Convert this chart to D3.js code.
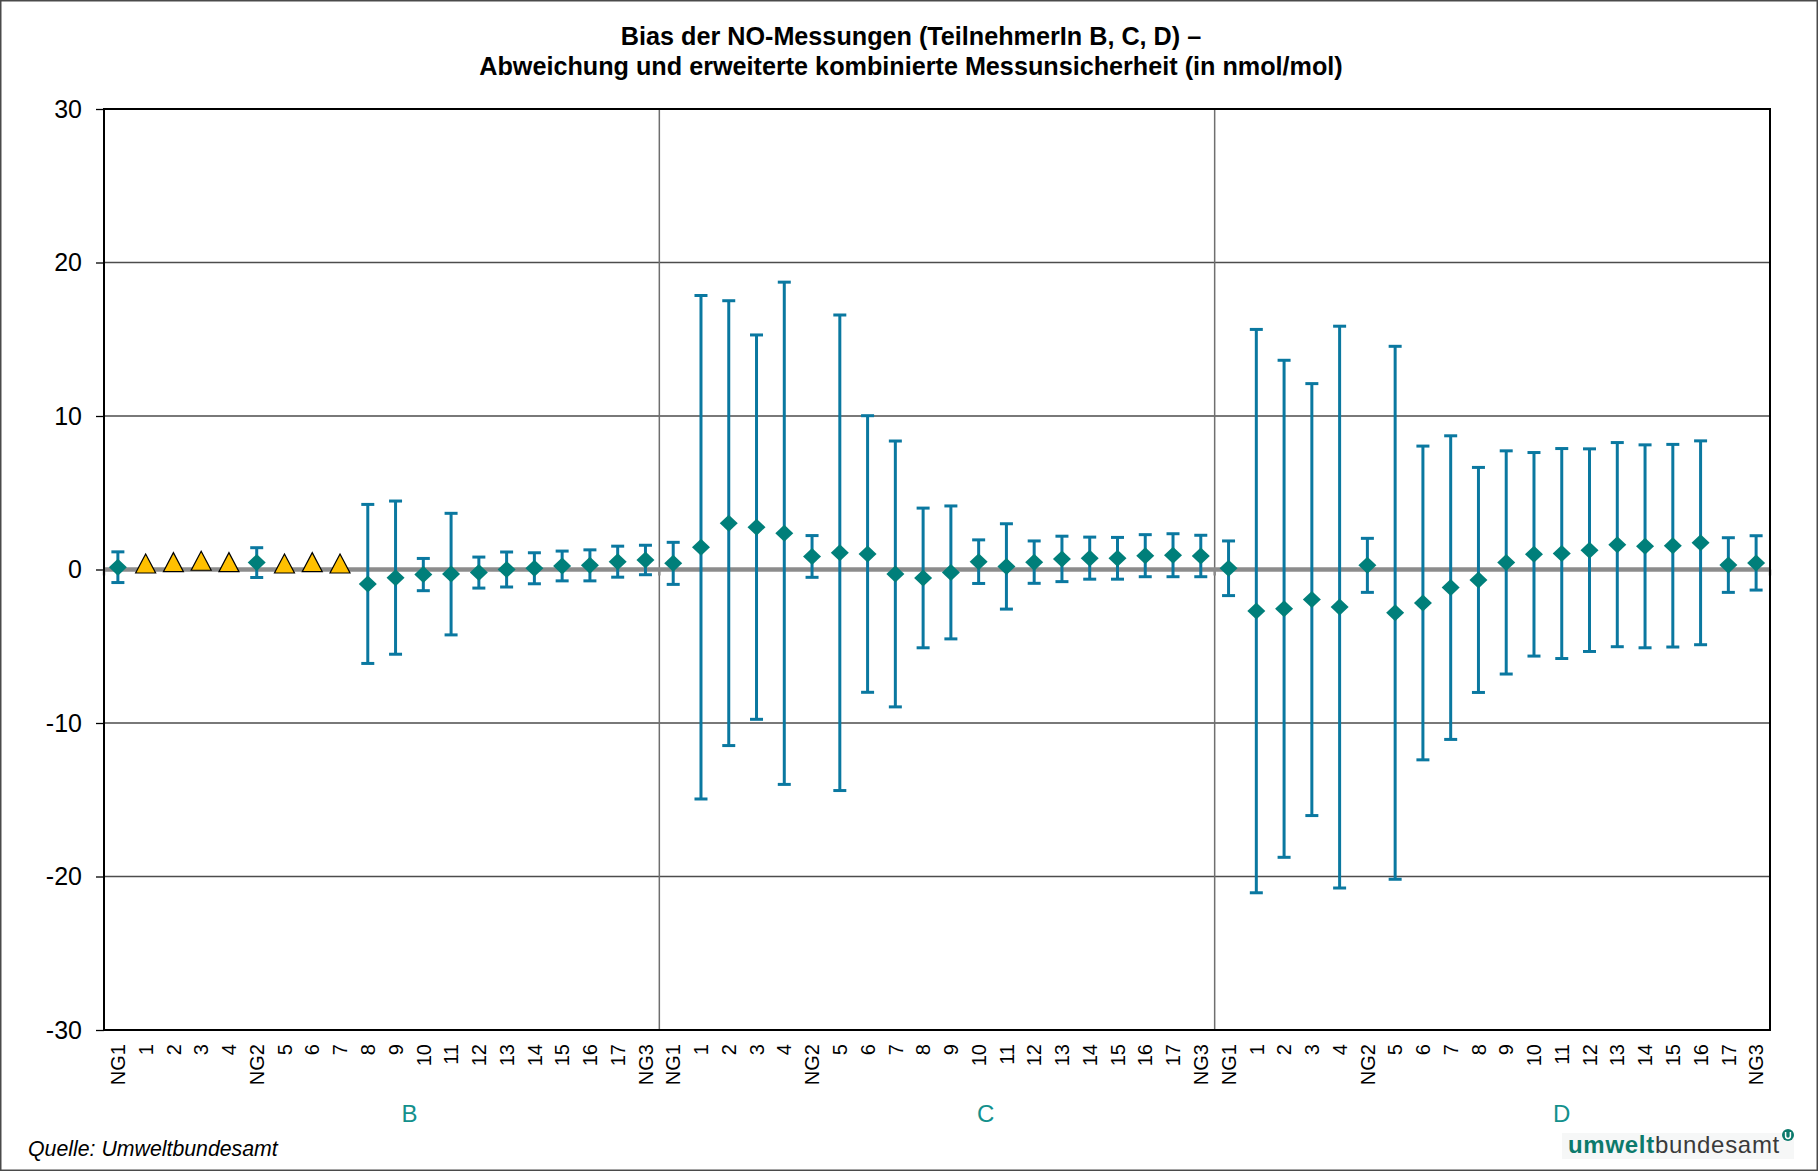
<!DOCTYPE html>
<html>
<head>
<meta charset="utf-8">
<script src="https://cdn.jsdelivr.net/npm/d3@7/dist/d3.min.js"></script>
<style>
  html, body { margin: 0; padding: 0; background: #fff; }
  svg { display: block; }
  text { font-family: "Liberation Sans", Arial, sans-serif; }
</style>
</head>
<body>
<svg id="chart" width="1818" height="1171"></svg>
<script>
// Categories within each participant block
const categories = ["NG1","1","2","3","4","NG2","5","6","7","8","9","10","11","12","13","14","15","16","17","NG3"];
const groups = ["B", "C", "D"];

// Bias (nmol/mol) with expanded combined uncertainty, per participant
const biasB = [0.15, null, null, null, null, 0.45, null, null, null, -0.94, -0.53, -0.33, -0.30, -0.20, 0.00, 0.08, 0.23, 0.27, 0.51, 0.62];
const uncB  = [1.00, null, null, null, null, 0.97, null, null, null,  5.18,  4.99,  1.05,  3.96,  1.01, 1.14, 1.01, 0.97, 1.01, 1.01, 0.96];
// Participant B values reported without uncertainty
const biasBnoUnc = [null, 0.39, 0.48, 0.57, 0.48, null, 0.39, 0.48, 0.39, null, null, null, null, null, null, null, null, null, null, null];

const biasC = [0.40, 1.45, 3.02, 2.76, 2.36, 0.85, 1.09, 1.01, -0.29, -0.55, -0.19, 0.51, 0.20, 0.48, 0.69, 0.74, 0.73, 0.90, 0.93, 0.88];
const uncC  = [1.37, 16.40, 14.49, 12.52, 16.36, 1.36, 15.49, 9.01, 8.66, 4.55, 4.33, 1.42, 2.78, 1.38, 1.48, 1.37, 1.36, 1.37, 1.40, 1.35];

const biasD = [0.08, -2.71, -2.56, -1.96, -2.45, 0.27, -2.82, -2.18, -1.18, -0.68, 0.46, 0.99, 1.04, 1.26, 1.62, 1.51, 1.55, 1.74, 0.29, 0.43];
const uncD  = [1.78, 18.35, 16.19, 14.07, 18.30, 1.76, 17.36, 10.22, 9.89, 7.33, 7.27, 6.63, 6.84, 6.60, 6.65, 6.61, 6.60, 6.64, 1.78, 1.77];

const yTicks = [-30, -20, -10, 0, 10, 20, 30];
// Position of each block label, in category units from the block start
const groupLabelOffset = [11.0, 11.75, 12.5];

const titleLines = [
  "Bias der NO-Messungen (TeilnehmerIn B, C, D) \u2013",
  "Abweichung und erweiterte kombinierte Messunsicherheit (in nmol/mol)"
];

// ---- build flat tables ----
const biasAll = [biasB, biasC, biasD];
const uncAll = [uncB, uncC, uncD];
const points = [];
const triangles = [];
groups.forEach((g, gi) => {
  categories.forEach((c, ci) => {
    const idx = gi * categories.length + ci;
    if (biasAll[gi][ci] != null) points.push({ idx, v: biasAll[gi][ci], u: uncAll[gi][ci] });
    if (gi === 0 && biasBnoUnc[ci] != null) triangles.push({ idx, v: biasBnoUnc[ci] });
  });
});
const nCat = categories.length * groups.length;

const svg = d3.select("#chart");
const W = 1818, H = 1171;
const m = { left: 104, right: 1770, top: 109, bottom: 1030 };

svg.append("rect").attr("x", 0.75).attr("y", 0.75).attr("width", W - 1.5).attr("height", H - 1.5)
  .attr("fill", "#fff").attr("stroke", "#4a4a4a").attr("stroke-width", 1.5);

const x = d3.scaleBand().domain(d3.range(nCat)).range([m.left, m.right]).padding(0);
const y = d3.scaleLinear().domain([-30, 30]).range([m.bottom, m.top]);
const cx = i => x(i) + x.bandwidth() / 2;

// title
svg.append("g").selectAll("text").data(titleLines).join("text")
  .attr("x", 911).attr("y", (d, i) => 45 + i * 30)
  .attr("text-anchor", "middle").attr("font-weight", "bold").attr("font-size", 25.2)
  .attr("fill", "#000").text(d => d);

// horizontal gridlines
svg.append("g").selectAll("line").data(yTicks.filter(t => t !== 0 && Math.abs(t) !== 30)).join("line")
  .attr("x1", m.left).attr("x2", m.right)
  .attr("y1", d => y(d)).attr("y2", d => y(d))
  .attr("stroke", "#4d4d4d").attr("stroke-width", 1.3);

// block separators
svg.append("g").selectAll("line").data([1, 2]).join("line")
  .attr("x1", d => x(d * categories.length)).attr("x2", d => x(d * categories.length))
  .attr("y1", m.top).attr("y2", m.bottom)
  .attr("stroke", "#6f6f6f").attr("stroke-width", 1.5);

// y axis
const yAxis = svg.append("g").attr("transform", `translate(${m.left},0)`)
  .call(d3.axisLeft(y).tickValues(yTicks).tickSize(8).tickPadding(14).tickFormat(d => String(d)));
yAxis.select(".domain").remove();
yAxis.selectAll(".tick line").attr("stroke", "#000").attr("stroke-width", 1.3);
yAxis.selectAll(".tick text").attr("font-size", 25).attr("fill", "#000")
  .attr("font-family", "'Liberation Sans', Arial, sans-serif");

// x axis with rotated category labels
const xAxis = svg.append("g").attr("transform", `translate(0,${m.bottom})`)
  .call(d3.axisBottom(x).tickSize(0).tickFormat(i => categories[i % categories.length]));
xAxis.select(".domain").remove();
xAxis.selectAll(".tick text")
  .attr("font-size", 20).attr("fill", "#000")
  .attr("font-family", "'Liberation Sans', Arial, sans-serif")
  .attr("text-anchor", "end")
  .attr("transform", "rotate(-90)")
  .attr("x", -14).attr("y", 0).attr("dy", "0.36em");

// block labels
svg.append("g").selectAll("text").data(groups).join("text")
  .attr("x", (d, i) => x(i * categories.length) + groupLabelOffset[i] * x.bandwidth())
  .attr("y", 1122)
  .attr("text-anchor", "middle").attr("font-size", 24).attr("fill", "#13908c")
  .text(d => d);

// zero line with ticks at block boundaries
svg.append("g").selectAll("line").data(d3.range(0, nCat + 1, categories.length)).join("line")
  .attr("x1", d => d === nCat ? m.right : x(d)).attr("x2", d => d === nCat ? m.right : x(d))
  .attr("y1", y(0)).attr("y2", y(0) + 6)
  .attr("stroke", "#8c8c8c").attr("stroke-width", 2.5);
svg.append("line")
  .attr("x1", m.left).attr("x2", m.right).attr("y1", y(0)).attr("y2", y(0))
  .attr("stroke", "#8c8c8c").attr("stroke-width", 4.5);

// plot frame
svg.append("rect").attr("x", m.left).attr("y", m.top)
  .attr("width", m.right - m.left).attr("height", m.bottom - m.top)
  .attr("fill", "none").attr("stroke", "#000").attr("stroke-width", 2);

// error bars
const barColor = "#0a78a0";
const capW = 6.5;
const eb = svg.append("g").attr("stroke", barColor).attr("stroke-width", 3).attr("fill", "none");
eb.selectAll("line.v").data(points).join("line").attr("class", "v")
  .attr("x1", d => cx(d.idx)).attr("x2", d => cx(d.idx))
  .attr("y1", d => y(d.v + d.u)).attr("y2", d => y(d.v - d.u));
eb.selectAll("line.t").data(points).join("line").attr("class", "t")
  .attr("x1", d => cx(d.idx) - capW).attr("x2", d => cx(d.idx) + capW)
  .attr("y1", d => y(d.v + d.u)).attr("y2", d => y(d.v + d.u));
eb.selectAll("line.b").data(points).join("line").attr("class", "b")
  .attr("x1", d => cx(d.idx) - capW).attr("x2", d => cx(d.idx) + capW)
  .attr("y1", d => y(d.v - d.u)).attr("y2", d => y(d.v - d.u));

// diamond markers (bounding-box centred on the value)
const diamondPath = "M0,-8.5L9,0L0,8.5L-9,0Z";
svg.append("g").selectAll("path").data(points).join("path")
  .attr("d", diamondPath)
  .attr("transform", d => `translate(${cx(d.idx)},${y(d.v)})`)
  .attr("fill", "#007f7a");

// triangle markers for values without uncertainty
const trianglePath = "M0,-9.5L10,9.5L-10,9.5Z";
svg.append("g").selectAll("path").data(triangles).join("path")
  .attr("d", trianglePath)
  .attr("transform", d => `translate(${cx(d.idx)},${y(d.v)})`)
  .attr("fill", "#ffc000").attr("stroke", "#000").attr("stroke-width", 1.2)
  .attr("stroke-linejoin", "miter");

// source note
svg.append("text").attr("x", 28).attr("y", 1156)
  .attr("font-size", 21.3).attr("font-style", "italic").attr("fill", "#000")
  .text("Quelle: Umweltbundesamt");

// agency wordmark
const logo = svg.append("g");
logo.append("rect").attr("x", 1562).attr("y", 1133).attr("width", 232).attr("height", 26)
  .attr("fill", "#f6f7f7");
const lt = logo.append("text").attr("x", 1568).attr("y", 1153)
  .attr("font-family", "'Noto Sans', 'Open Sans', sans-serif").attr("font-size", 24)
  .attr("letter-spacing", 0.7);
lt.append("tspan").attr("font-weight", "bold").attr("fill", "#0c7a6c").text("umwelt");
lt.append("tspan").attr("fill", "#3a3a3a").text("bundesamt");
logo.append("circle").attr("cx", 1788).attr("cy", 1135).attr("r", 6).attr("fill", "#0c7a6c");
logo.append("path").attr("d", "M1785.6,1132V1136A2.4,2.4 0 0 0 1790.4,1136V1132")
  .attr("fill", "none").attr("stroke", "#fff").attr("stroke-width", 1.5);
</script>
</body>
</html>
